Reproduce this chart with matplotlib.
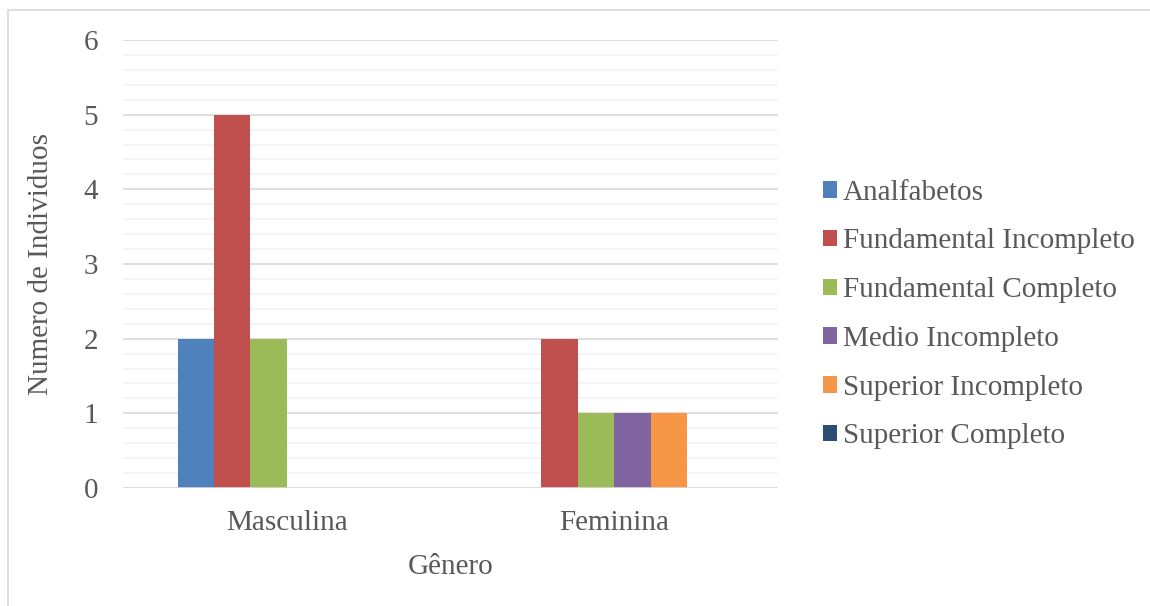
import numpy as np
from matplotlib import pyplot as plt
from matplotlib.patches import Rectangle
from matplotlib.ticker import MultipleLocator

# data
generos = ["Masculina", "Feminina"]
series = ["Analfabetos", "Fundamental Incompleto", "Fundamental Completo",
          "Medio Incompleto", "Superior Incompleto", "Superior Completo"]
analfabetos = [2, 0]
fund_incompleto = [5, 2]
fund_completo = [2, 1]
medio_incompleto = [0, 1]
sup_incompleto = [0, 1]
sup_completo = [0, 0]
valores = [analfabetos, fund_incompleto, fund_completo,
           medio_incompleto, sup_incompleto, sup_completo]
cores = ["#4F81BD", "#C0504D", "#9BBB59", "#8064A2", "#F79646", "#2C4D75"]

plt.rcParams['font.family'] = ['Liberation Serif', 'DejaVu Serif']
txt = "#595959"
fs = 21

fig = plt.figure(figsize=(11.5, 6.06), dpi=100)
W, H = 1150, 606
ax = fig.add_axes([123 / W, 1 - 488 / H, (778 - 123) / W, (488 - 40) / H])

# outer chart border
fig.patches.append(Rectangle((8 / W, -0.1), 1.2, 1 - 10 / H + 0.1,
                             transform=fig.transFigure, fill=False,
                             edgecolor="#D9D9D9", linewidth=1.2))

x = np.arange(len(generos))
w = 1 / 9
for i, (nome, vals) in enumerate(zip(series, valores)):
    ax.bar(x + (i - 2.5) * w, vals, width=w, color=cores[i], label=nome, zorder=3)

ax.set_xlim(-0.5, 1.5)
ax.set_ylim(0, 6)
ax.yaxis.set_major_locator(MultipleLocator(1))
ax.yaxis.set_minor_locator(MultipleLocator(0.2))
ax.grid(axis='y', which='major', color="#D9D9D9", linewidth=1.2, zorder=0)
ax.grid(axis='y', which='minor', color="#F2F2F2", linewidth=1.2, zorder=0)
for s in ax.spines.values():
    s.set_visible(False)
ax.axhline(0, color="#D9D9D9", linewidth=1.2, zorder=4)

ax.set_xticks(x)
ax.set_xticklabels(generos)
ax.tick_params(axis='both', which='both', length=0, labelsize=fs, labelcolor=txt)
ax.tick_params(axis='x', pad=16)
ax.tick_params(axis='y', pad=18)

ax.set_xlabel("Gênero", fontsize=fs, color=txt, labelpad=13)
ax.set_ylabel("Numero de Individuos", fontsize=fs, color=txt, labelpad=21)

ax.legend(loc='center left', bbox_to_anchor=(0.997, 0.387), frameon=False,
          fontsize=fs, labelcolor=txt, handlelength=0.5, handleheight=0.5,
          handletextpad=0.2, labelspacing=0.78, borderaxespad=1.2)

fig.savefig("out.png", dpi=100)
